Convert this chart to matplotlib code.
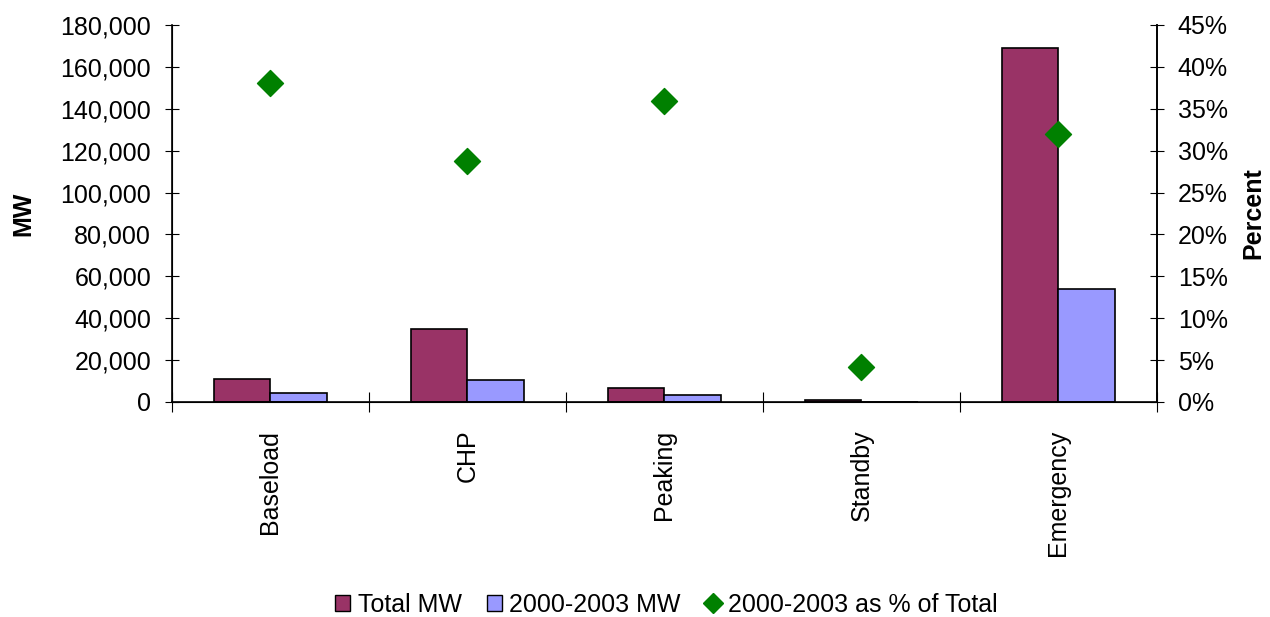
import matplotlib.pyplot as plt
import numpy as np
from matplotlib.patches import Patch
from matplotlib.lines import Line2D
from matplotlib.ticker import FuncFormatter

plt.rcParams['font.family'] = ['Liberation Sans', 'DejaVu Sans']

# data
categories = ['Baseload', 'CHP', 'Peaking', 'Standby', 'Emergency']
total_mw = [11200, 34900, 6700, 800, 169000]
recent_mw = [4300, 10400, 3500, 100, 54000]
recent_pct = [38.1, 28.8, 35.9, 4.2, 32.0]

red = '#993366'
blue = '#9999FF'
green = '#008000'
fs = 18

fig = plt.figure(figsize=(12.7, 6.17), dpi=100)
ax = fig.add_axes([0.1354, 0.3485, 0.9110 - 0.1354, 0.9595 - 0.3485])

x = np.arange(len(categories))
w = 0.285
ax.bar(x - w / 2, total_mw, w, color=red, edgecolor='black', linewidth=1.2, zorder=2)
ax.bar(x + w / 2, recent_mw, w, color=blue, edgecolor='black', linewidth=1.2, zorder=2)

ax.set_xlim(-0.5, len(categories) - 0.5)
ax.set_ylim(0, 180000)
ax.set_yticks(np.arange(0, 180001, 20000))
ax.yaxis.set_major_formatter(FuncFormatter(lambda v, p: f'{int(v):,}'))
ax.tick_params(axis='y', direction='inout', length=10, labelsize=fs, pad=10)

# category boundaries as major ticks, labels on minor ticks
ax.set_xticks(np.arange(-0.5, len(categories), 1.0))
ax.set_xticklabels([])
ax.set_xticks(x, minor=True)
ax.set_xticklabels(categories, minor=True, rotation=90, fontsize=fs)
ax.tick_params(axis='x', which='major', direction='inout', length=14)
ax.tick_params(axis='x', which='minor', length=0, pad=20)

ax.spines['top'].set_visible(False)
for s in ['left', 'right', 'bottom']:
    ax.spines[s].set_linewidth(1.2)
ax.set_ylabel('MW', fontsize=fs, fontweight='bold', labelpad=18)

ax2 = ax.twinx()
ax2.scatter(x, recent_pct, marker='D', s=175, color=green, zorder=3)
ax2.set_ylim(0, 45)
ax2.set_yticks(np.arange(0, 46, 5))
ax2.yaxis.set_major_formatter(FuncFormatter(lambda v, p: f'{int(v)}%'))
ax2.tick_params(axis='y', direction='inout', length=10, labelsize=fs, pad=10)
ax2.spines['top'].set_visible(False)
ax2.spines['right'].set_linewidth(1.2)
ax2.set_ylabel('Percent', fontsize=fs, fontweight='bold', labelpad=10)

handles = [
    Patch(facecolor=red, edgecolor='black', label='Total MW'),
    Patch(facecolor=blue, edgecolor='black', label='2000-2003 MW'),
    Line2D([], [], marker='D', linestyle='none', color=green, markersize=10,
           label='2000-2003 as % of Total'),
]
fig.legend(handles=handles, loc='center', bbox_to_anchor=(0.525, 0.02), ncol=3,
           frameon=False, fontsize=fs, handlelength=0.6, handleheight=0.6,
           handletextpad=0.3, columnspacing=1.0)

fig.savefig('out.png', dpi=100)
